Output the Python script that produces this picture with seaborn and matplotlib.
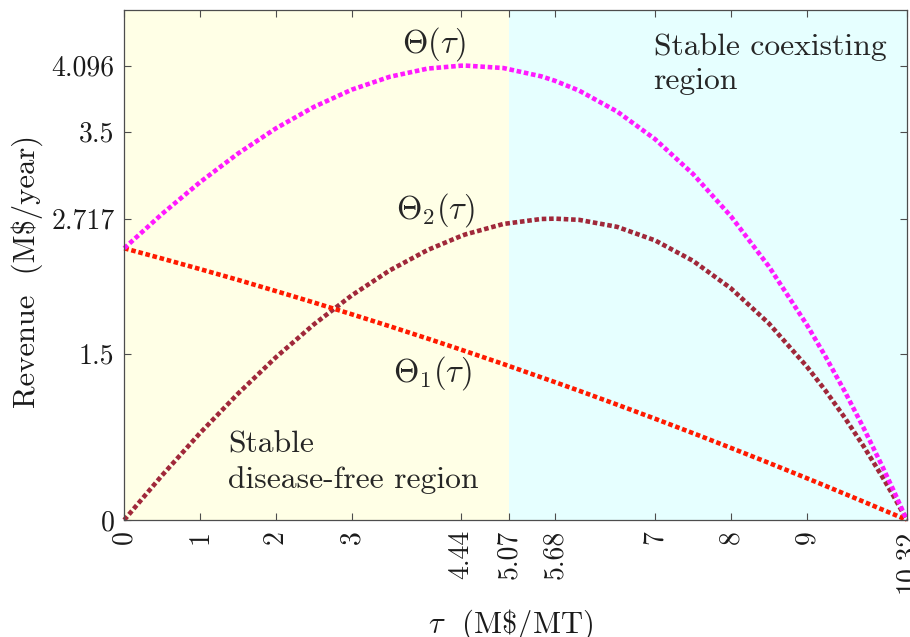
import matplotlib
matplotlib.use("Agg")
import matplotlib.pyplot as plt
import numpy as np
import pandas as pd
import seaborn as sns

# Tax rate tau (M$/MT) at which each revenue curve is sampled
tau = [0, 0.5, 1, 1.5, 2, 2.5, 3, 3.5, 4, 4.44, 4.5, 5, 5.5, 5.68, 6, 6.5,
       7, 7.5, 8, 8.5, 9, 9.25, 9.5, 9.75, 10, 10.15, 10.32]

# Revenue components (M$/year)
theta1 = [2.450, 2.357, 2.262, 2.165, 2.064, 1.961, 1.855, 1.747, 1.636,
          1.536, 1.522, 1.406, 1.286, 1.243, 1.165, 1.040, 0.913, 0.783,
          0.650, 0.515, 0.377, 0.307, 0.236, 0.165, 0.093, 0.050, 0.0]
theta2 = [0.0, 0.403, 0.784, 1.139, 1.467, 1.763, 2.025, 2.250, 2.434,
          2.560, 2.575, 2.669, 2.714, 2.717, 2.706, 2.643, 2.521, 2.337,
          2.089, 1.773, 1.385, 1.164, 0.924, 0.665, 0.386, 0.209, 0.0]
theta = [2.450, 2.760, 3.046, 3.304, 3.531, 3.724, 3.880, 3.996, 4.070,
         4.096, 4.097, 4.075, 4.000, 3.960, 3.871, 3.683, 3.434, 3.120,
         2.739, 2.287, 1.762, 1.471, 1.161, 0.830, 0.479, 0.259, 0.0]

curve_names = ["Theta2", "Theta1", "Theta"]
curve_colors = {"Theta2": "#a0283a", "Theta1": "#ff1a00", "Theta": "#ff1aff"}

# Stability regions along tau
tau_threshold = 5.07
tau_max = 10.32

xticks = [0, 1, 2, 3, 4.44, 5.07, 5.68, 7, 8, 9, 10.32]
xtick_labels = ["0", "1", "2", "3", "4.44", "5.07", "5.68", "7", "8", "9", "10.32"]
yticks = [0, 1.5, 2.717, 3.5, 4.096]
ytick_labels = ["0", "1.5", "2.717", "3.5", "4.096"]

df = pd.concat([
    pd.DataFrame({"tau": tau, "revenue": theta2, "curve": "Theta2"}),
    pd.DataFrame({"tau": tau, "revenue": theta1, "curve": "Theta1"}),
    pd.DataFrame({"tau": tau, "revenue": theta, "curve": "Theta"}),
])

sns.set_style("ticks")
plt.rcParams["font.family"] = ["cmr10", "DejaVu Serif"]
plt.rcParams["mathtext.fontset"] = "cm"
plt.rcParams["axes.formatter.use_mathtext"] = True

fig = plt.figure(figsize=(9.1, 6.37), dpi=100)
ax = fig.add_axes([0.1365, 0.1837, 0.8600, 0.8002])

ax.axvspan(0, tau_threshold, color="#ffffe6", zorder=0, lw=0)
ax.axvspan(tau_threshold, tau_max, color="#e6ffff", zorder=0, lw=0)

sns.lineplot(data=df, x="tau", y="revenue", hue="curve", style="curve",
             hue_order=curve_names, style_order=curve_names,
             palette=curve_colors,
             dashes={n: (1, 0.6) for n in curve_names},
             linewidth=3.3, legend=False, ax=ax, sort=False)
for line in ax.get_lines():
    line.set_clip_on(False)
    line.set_zorder(3)

ax.set_xlim(0, tau_max)
ax.set_ylim(0, 4.596)
ax.set_xticks(xticks)
ax.set_xticklabels(xtick_labels, rotation=90)
ax.set_yticks(yticks)
ax.set_yticklabels(ytick_labels)

ax.tick_params(axis="both", which="both", direction="in", length=5,
               width=0.8, color="#4d4d4d", labelsize=20, labelcolor="#1a1a1a",
               top=True, right=True, pad=7)
for s in ax.spines.values():
    s.set_visible(True)
    s.set_color("#4d4d4d")
    s.set_linewidth(0.9)
    s.set_zorder(4)

ax.set_xlabel(r"$\tau$  (M\$/MT)", fontsize=22, color="#1a1a1a")
ax.set_ylabel(r"Revenue  (M\$/year)", fontsize=22, color="#1a1a1a")
ax.xaxis.set_label_coords(0.493, -0.172)
ax.yaxis.set_label_coords(-0.104, 0.4885)

ax.text(4.085, 4.29, r"$\Theta(\tau)$", fontsize=23.5, ha="center", va="center")
ax.text(4.10, 2.795, r"$\Theta_2(\tau)$", fontsize=23.5, ha="center", va="center")
ax.text(4.065, 1.325, r"$\Theta_1(\tau)$", fontsize=23.5, ha="center", va="center")
ax.text(6.98, 4.39, "Stable coexisting\nregion", fontsize=22.8, ha="left",
        va="top", linespacing=1.32)
ax.text(1.37, 0.80, "Stable\ndisease-free region", fontsize=22.8, ha="left",
        va="top", linespacing=1.32)

fig.savefig("out.png", dpi=100)
